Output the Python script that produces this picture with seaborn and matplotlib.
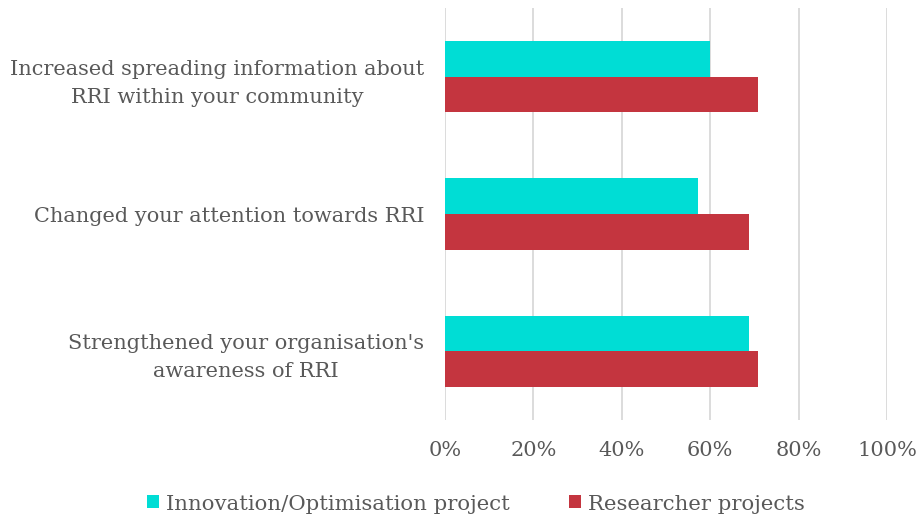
import matplotlib
matplotlib.use("Agg")
import matplotlib.pyplot as plt
import seaborn as sns
import pandas as pd
from matplotlib.ticker import FuncFormatter

categories = [
    "Increased spreading information about\nRRI within your community",
    "Changed your attention towards RRI",
    "Strengthened your organisation's\nawareness of RRI",
]
series_names = ["Innovation/Optimisation project", "Researcher projects"]
innovation = [60.0, 57.2, 68.7]
researcher = [70.9, 68.8, 70.9]
xticks = [0, 20, 40, 60, 80, 100]

colors = ["#00DDD5", "#C4353F"]
text_color = "#595959"

rows = []
for c, v in zip(categories, innovation):
    rows.append({"category": c, "series": series_names[0], "value": v})
for c, v in zip(categories, researcher):
    rows.append({"category": c, "series": series_names[1], "value": v})
df = pd.DataFrame(rows)

sns.set_theme(style="white")
plt.rcParams["font.family"] = ["DejaVu Serif"]

fig = plt.figure(figsize=(9.16, 5.2), dpi=100)
ax = fig.add_axes([445 / 916, 1 - 420 / 520, (887 - 445) / 916, (420 - 8) / 520])

sns.barplot(data=df, y="category", x="value", hue="series", order=categories,
            hue_order=series_names, palette=colors, orient="h", width=0.52,
            saturation=1, linewidth=0, ax=ax, legend=True)

ax.set_xlim(0, 100)
ax.set_xticks(xticks)
ax.xaxis.set_major_formatter(FuncFormatter(lambda v, p: f"{int(v)}%"))
ax.grid(axis="x", color="#D9D9D9", linewidth=1.3)
ax.set_axisbelow(True)
for s in ax.spines.values():
    s.set_visible(False)
ax.set_xlabel("")
ax.set_ylabel("")
ax.tick_params(axis="both", length=0, colors=text_color, labelsize=15)
ax.tick_params(axis="x", pad=15)
ax.tick_params(axis="y", pad=15)
for lbl in ax.get_yticklabels():
    lbl.set_horizontalalignment("right")
    lbl.set_multialignment("center")
    lbl.set_linespacing(1.6)

h, l = ax.get_legend_handles_labels()
ax.get_legend().remove()
leg = fig.legend(h, l, loc="center", bbox_to_anchor=(476 / 916, 1 - 504 / 520), ncol=2,
                 frameon=False, fontsize=15.3, handlelength=0.565, handleheight=0.565,
                 handletextpad=0.33, columnspacing=2.8, labelcolor=text_color)

fig.savefig("out.png", dpi=100)
